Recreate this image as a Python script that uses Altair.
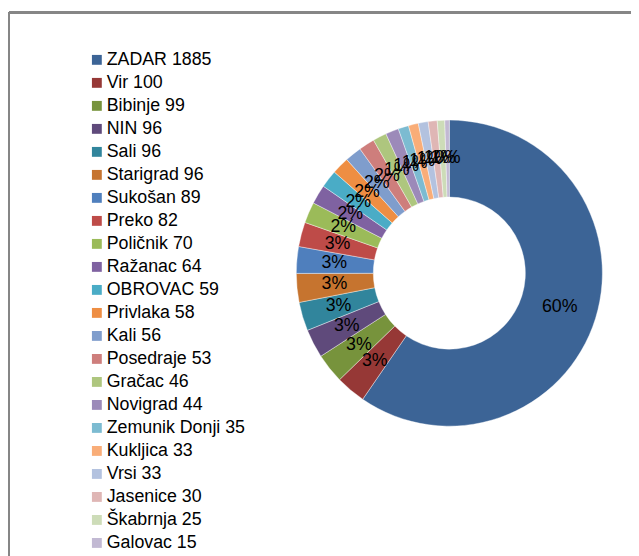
import altair as alt
import pandas as pd

names = ["ZADAR", "Vir", "Bibinje", "NIN", "Sali", "Starigrad", "Sukošan", "Preko",
         "Poličnik", "Ražanac", "OBROVAC", "Privlaka", "Kali", "Posedraje", "Gračac",
         "Novigrad", "Zemunik Donji", "Kukljica", "Vrsi", "Jasenice", "Škabrnja", "Galovac"]
values = [1885, 100, 99, 96, 96, 96, 89, 82, 70, 64, 59, 58, 56, 53, 46, 44, 35, 33, 33, 30, 25, 15]
colors = ["#3C6496", "#963836", "#77933C", "#5F4A7B", "#31859C", "#C6742F",
          "#4F7FBD", "#BE4B48", "#9BBB59", "#7F62A1", "#4AACC6", "#EE8E43",
          "#7F9DCC", "#CE7E7C", "#AEC67E", "#9C8AB9", "#7CBBD1", "#F9AD78",
          "#B3C2DF", "#DFB6B5", "#CDDCB8", "#C2B9D3"]

labels = [f"{n} {v}" for n, v in zip(names, values)]
df = pd.DataFrame({"idx": list(range(len(names))), "name": labels, "value": values})

FONT = "Liberation Sans"

base = alt.Chart(df).encode(
    theta=alt.Theta("value:Q", stack=True),
    order=alt.Order("idx:Q", sort="ascending"),
    x=alt.value(446),
    y=alt.value(264),
)

arc = base.mark_arc(outerRadius=155, innerRadius=77, stroke="white", strokeWidth=0.4).encode(
    color=alt.Color(
        "name:N",
        scale=alt.Scale(domain=labels, range=colors),
        sort=labels,
        legend=alt.Legend(
            title=None, orient="none", legendX=80, legendY=39, direction="vertical",
            symbolType="square", symbolSize=100, symbolStrokeWidth=0,
            labelFontSize=18, labelFont=FONT, labelColor="black", labelOffset=1,
            rowPadding=5.3, padding=0, labelLimit=400,
        ),
    )
)

text = base.mark_text(radius=117, fontSize=18, font=FONT, color="black").transform_joinaggregate(
    total="sum(value)"
).transform_calculate(
    pct="format(datum.value / datum.total, '.0%')"
).encode(text="pct:N")

left_rule = alt.Chart(df).mark_rule(color="#868686", strokeWidth=2).encode(
    x=alt.value(0), y=alt.value(0), y2=alt.value(560)
)
top_rule = alt.Chart(df).mark_rule(color="#868686", strokeWidth=2).encode(
    x=alt.value(0), x2=alt.value(640), y=alt.value(0)
)

chart = alt.layer(arc, text, left_rule, top_rule).properties(
    width=630, height=547,
    autosize=alt.AutoSizeParams(type="none"),
    padding={"left": 1, "top": 1, "right": 0, "bottom": 0},
).configure_view(stroke=None)

chart.save("out.html", embed_options={"renderer": "svg", "actions": False})
